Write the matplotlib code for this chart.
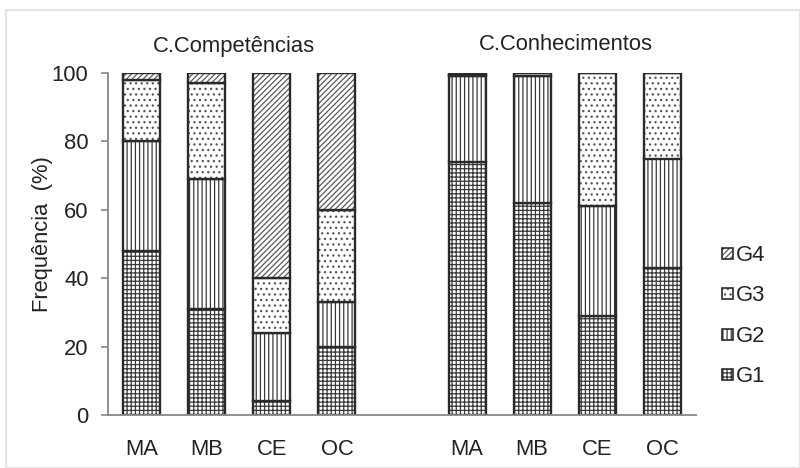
import matplotlib
matplotlib.use("Agg")
import matplotlib.pyplot as plt
from matplotlib.patches import Rectangle
import numpy as np

plt.rcParams['font.family'] = ['Liberation Sans', 'DejaVu Sans']
plt.rcParams['hatch.linewidth'] = 0.9

categories = ["MA", "MB", "CE", "OC", "MA", "MB", "CE", "OC"]
positions = [0, 1, 2, 3, 5, 6, 7, 8]
groups = ["C.Competências", "C.Conhecimentos"]
series = ["G1", "G2", "G3", "G4"]
g1 = [48, 31, 4, 20, 74, 62, 29, 43]
g2 = [32, 38, 20, 13, 25, 37, 32, 32]
g3 = [18, 28, 16, 27, 0.5, 1, 39, 25]
g4 = [2, 3, 60, 40, 0.5, 0, 0, 0]
values = [g1, g2, g3, g4]
hatches = ["++++", "||||", "...", "//////"]
hatch_colors = ["#3a3a3a", "#3a3a3a", "#555555", "#5a5a5a"]
edge = "#2a2a2a"
fs = 15.8

W, H = 800, 468
fig = plt.figure(figsize=(W / 100, H / 100), dpi=100)
fig.patches.append(Rectangle((0.007, 0.0), 0.993, 0.978, transform=fig.transFigure,
                             fill=False, edgecolor="#e4e4e4", linewidth=1.5))
ax = fig.add_axes([108 / W, 1 - 415 / H, 588 / W, (415 - 73) / H])

x = np.array(positions, dtype=float)
width = 0.57
bottom = np.zeros(len(x))
for name, vals, h, hc in zip(series, values, hatches, hatch_colors):
    vals = np.array(vals, dtype=float)
    ax.bar(x, vals, width, bottom=bottom, color="white", edgecolor=hc,
           linewidth=0, hatch=h)
    ax.bar(x, vals, width, bottom=bottom, fill=False, edgecolor=edge,
           linewidth=1.7, label=name)
    bottom += vals

ax.set_ylim(0, 100)
ax.set_xlim(-0.52, 8.52)
ax.set_yticks([0, 20, 40, 60, 80, 100])
ax.set_xticks(x)
ax.set_xticklabels(categories)
ax.tick_params(axis="both", labelsize=fs, colors="#888888", labelcolor="#222222",
               length=5, width=1.2)
ax.tick_params(axis="x", length=0, pad=17)
ax.tick_params(axis="y", pad=9)
for s in ["top", "right"]:
    ax.spines[s].set_visible(False)
for s in ["left", "bottom"]:
    ax.spines[s].set_color("#888888")
    ax.spines[s].set_linewidth(1.3)

fig.text(43 / W, 1 - 234 / H, "Frequência  (%)", rotation=90, ha="center",
         va="center", fontsize=fs, color="#222222")

fig.text(234 / W, 1 - 52 / H, groups[0], ha="center", va="baseline",
         fontsize=fs, color="#222222")
fig.text(566 / W, 1 - 50 / H, groups[1], ha="center", va="baseline",
         fontsize=fs, color="#222222")

# legend (top to bottom: G4, G3, G2, G1)
leg_y = [253, 293, 334, 374]
for name, h, hc, yc in zip(series[::-1], hatches[::-1], hatch_colors[::-1], leg_y):
    sq = 11
    r1 = Rectangle((722 / W, 1 - (yc + sq / 2) / H), sq / W, sq / H,
                   transform=fig.transFigure, facecolor="white", edgecolor=hc,
                   linewidth=0, hatch=h)
    r2 = Rectangle((722 / W, 1 - (yc + sq / 2) / H), sq / W, sq / H,
                   transform=fig.transFigure, fill=False, edgecolor=edge,
                   linewidth=1.2)
    fig.patches.extend([r1, r2])
    fig.text(736 / W, 1 - yc / H, name, ha="left", va="center_baseline",
             fontsize=fs, color="#222222")

fig.savefig("out.png", dpi=100)
